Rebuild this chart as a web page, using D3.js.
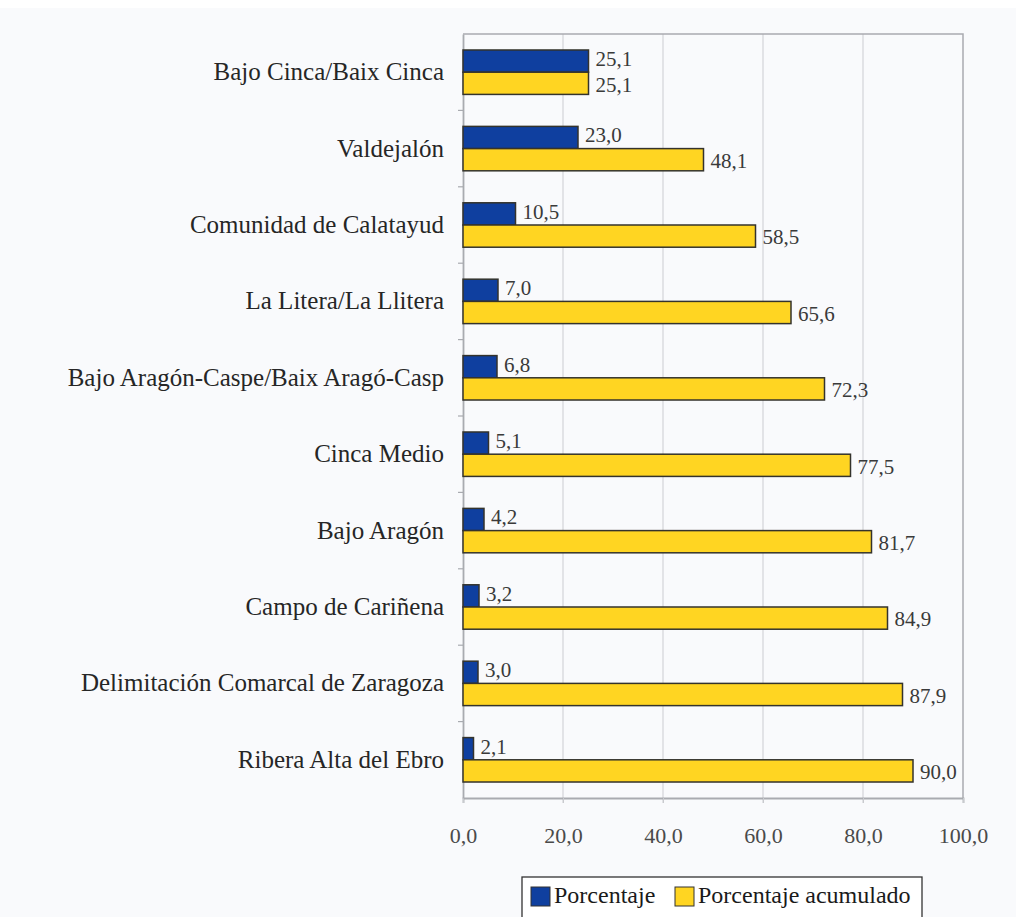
<!DOCTYPE html>
<html>
<head>
<meta charset="utf-8">
<script src="https://cdn.jsdelivr.net/npm/d3@7"></script>
<style>
  html, body { margin: 0; padding: 0; background: #ffffff; }
  svg { display: block; }
  svg text { font-family: "Liberation Serif", "Times New Roman", Times, Tinos, "DejaVu Serif", "Noto Serif", serif !important; }
</style>
</head>
<body>
<svg id="chart" width="1016" height="917"></svg>
<script>
const categories = [
  "Bajo Cinca/Baix Cinca",
  "Valdejalón",
  "Comunidad de Calatayud",
  "La Litera/La Llitera",
  "Bajo Aragón-Caspe/Baix Aragó-Casp",
  "Cinca Medio",
  "Bajo Aragón",
  "Campo de Cariñena",
  "Delimitación Comarcal de Zaragoza",
  "Ribera Alta del Ebro"
];
const porcentaje = [25.1, 23.0, 10.5, 7.0, 6.8, 5.1, 4.2, 3.2, 3.0, 2.1];
const acumulado = [25.1, 48.1, 58.5, 65.6, 72.3, 77.5, 81.7, 84.9, 87.9, 90.0];
const seriesNames = ["Porcentaje", "Porcentaje acumulado"];
const xTicks = [0, 20, 40, 60, 80, 100];

const colors = ["#0f3f9f", "#ffd522"];
const fmt = v => v.toFixed(1).replace(".", ",");

const svg = d3.select("#chart");
svg.append("rect").attr("x", 0).attr("y", 8).attr("width", 1016).attr("height", 909).attr("fill", "#f9fafc");

const pL = 463, pR = 963, pT = 34, pB = 798;
const x = d3.scaleLinear().domain([0, 100]).range([pL, pR]);
const y = d3.scaleBand().domain(categories).range([pT, pB]).paddingInner(0).paddingOuter(0);
const yInner = d3.scaleBand().domain(seriesNames).range([0, y.bandwidth()]).paddingInner(0).paddingOuter(0.72);

// gridlines
svg.append("g").selectAll("line").data(xTicks.slice(1, -1)).join("line")
  .attr("x1", d => x(d)).attr("x2", d => x(d))
  .attr("y1", pT).attr("y2", pB + 5)
  .attr("stroke", "#d2d4d8").attr("stroke-width", 1.2);
// plot border top & right
svg.append("path")
  .attr("d", `M${pL},${pT}H${pR}V${pB}`)
  .attr("fill", "none").attr("stroke", "#a9abb0").attr("stroke-width", 1.5);

// axes
const xAxis = d3.axisBottom(x).tickValues(xTicks).tickSize(5).tickPadding(24).tickFormat(fmt);
const gx = svg.append("g").attr("transform", `translate(0,${pB})`).call(xAxis);
gx.attr("font-family", null);
gx.select(".domain").attr("stroke", "#a9abb0").attr("stroke-width", 1.8);
gx.selectAll(".tick line").attr("stroke", "#c8cace");
gx.selectAll(".tick text").attr("font-size", 22).attr("fill", "#4a4a4a");

const yAxis = d3.axisLeft(y).tickSize(0).tickPadding(19);
const gy = svg.append("g").attr("transform", `translate(${pL},0)`).call(yAxis);
gy.attr("font-family", null);
gy.select(".domain").attr("stroke", "#a9abb0").attr("stroke-width", 1.8);
gy.selectAll(".tick text").attr("font-size", 25).attr("fill", "#262626");
// band boundary ticks on y axis
svg.append("g").selectAll("line").data(categories.slice(1)).join("line")
  .attr("x1", pL - 5).attr("x2", pL)
  .attr("y1", d => y(d)).attr("y2", d => y(d))
  .attr("stroke", "#a9abb0").attr("stroke-width", 1.2);

// bars
const rows = categories.map((c, i) => ({ c, vals: [porcentaje[i], acumulado[i]] }));
const groups = svg.append("g").selectAll("g").data(rows).join("g")
  .attr("transform", d => `translate(0,${y(d.c)})`);
groups.selectAll("rect").data(d => d.vals.map((v, j) => ({ v, s: seriesNames[j], j }))).join("rect")
  .attr("x", x(0))
  .attr("y", d => yInner(d.s))
  .attr("width", d => x(d.v) - x(0))
  .attr("height", yInner.bandwidth())
  .attr("fill", d => colors[d.j])
  .attr("stroke", "#34332c").attr("stroke-width", 1.5);
groups.selectAll("text").data(d => d.vals.map((v, j) => ({ v, s: seriesNames[j], j }))).join("text")
  .attr("x", d => x(d.v) + 7)
  .attr("y", d => yInner(d.s) + yInner.bandwidth() / 2 + (d.j === 0 ? -2.5 : 1))
  .attr("dy", "0.35em")
  .attr("font-size", 21).attr("fill", "#3a3a3a")
  .text(d => fmt(d.v));

// legend
const lg = svg.append("g");
lg.append("rect").attr("x", 522).attr("y", 877).attr("width", 400).attr("height", 44)
  .attr("fill", "#ffffff").attr("stroke", "#333").attr("stroke-width", 1.3);
const legX = [531, 675];
seriesNames.forEach((s, i) => {
  lg.append("rect").attr("x", legX[i]).attr("y", 887).attr("width", 19).attr("height", 19)
    .attr("fill", colors[i]).attr("stroke", "#333").attr("stroke-width", 1);
  lg.append("text").attr("x", legX[i] + 23).attr("y", 903)
    .attr("font-size", 24).attr("fill", "#1a1a1a").text(s);
});
</script>
</body>
</html>
